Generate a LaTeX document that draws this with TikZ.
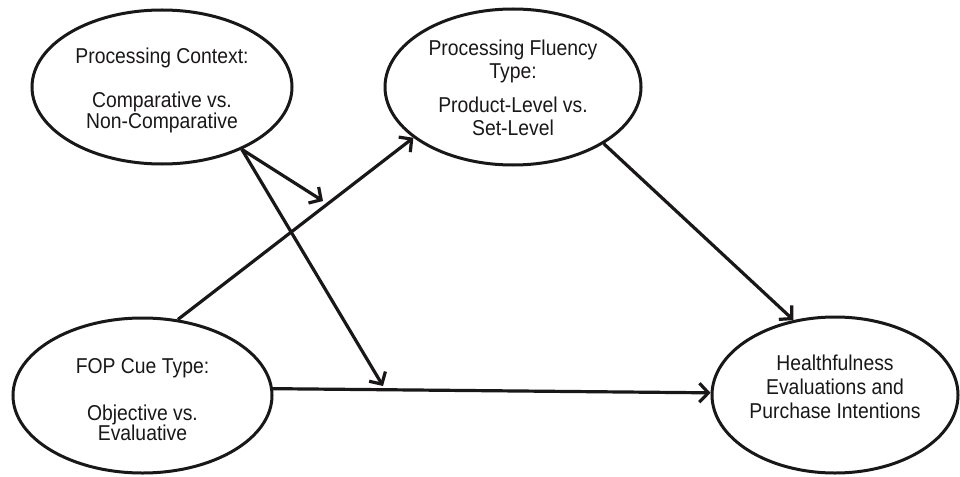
\documentclass[tikz,border=0pt]{standalone}
\usepackage{fontspec}
\setmainfont[FakeStretch=0.9]{Liberation Sans}
\usetikzlibrary{arrows.meta,shapes.geometric}
\definecolor{ink}{HTML}{1A1718}
\begin{document}
\begin{tikzpicture}[x=1pt,y=-1pt,
  oval/.style={draw=ink, ellipse, line width=3pt, inner sep=0pt},
  lbl/.style={align=center, inner sep=0pt, text=ink, font=\fontsize{21.5}{20.5}\selectfont},
  conn/.style={draw=ink, line width=3.2pt, -{Straight Barb[length=9pt,width=19pt]}}]
\useasboundingbox (0,0) rectangle (960,476);
% ellipses
\node[oval, minimum width=260pt, minimum height=154pt] (pc) at (162,87) {};
\node[oval, minimum width=256pt, minimum height=156pt] (pf) at (513,87) {};
\node[oval, minimum width=259pt, minimum height=155pt] (fop) at (142.5,395.5) {};
\node[oval, minimum width=246pt, minimum height=156pt] (he) at (835,395) {};
% texts
\node[lbl] (pct) at (162,90) {Processing Context:\\[24pt]Comparative vs.\\Non-Comparative};
\node[lbl, font=\fontsize{21.5}{23.5}\selectfont] (pft) at (513,88) {Processing Fluency\\Type:\\[10pt]Product-Level vs.\\Set-Level};
\node[lbl] (fopt) at (142.5,400) {FOP Cue Type:\\[26pt]Objective vs.\\Evaluative};
\node[lbl, font=\fontsize{21.5}{24}\selectfont] (het) at (835,387) {Healthfulness\\Evaluations and\\Purchase Intentions};
% free ends of the moderating arrows
\coordinate (m1) at (323,201);
\coordinate (m2) at (383,386);
% connectors
\draw[conn] (pc.-38) -- (m1);
\draw[conn] (pc.-38) -- (m2);
\draw[conn] (fop.65) -- (pf.207);
\draw[conn] (pf.-32) -- (he.119);
\draw[conn] (fop.3) -- (he.179);
\end{tikzpicture}
\end{document}
